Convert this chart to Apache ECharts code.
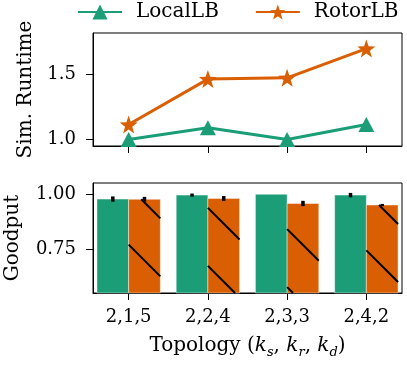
<!DOCTYPE html>
<html>
<head>
<meta charset="utf-8">
<script src="https://cdn.jsdelivr.net/npm/echarts@6/dist/echarts.min.js"></script>
<style>
html, body { margin: 0; padding: 0; background: #fff; }
#main { width: 407px; height: 366px; }
</style>
</head>
<body>
<div id="main"></div>
<script>
// data
var topologies = ['2,1,5', '2,2,4', '2,3,3', '2,4,2'];
var localRuntime = [1.0, 1.09, 1.0, 1.115];
var rotorRuntime = [1.115, 1.465, 1.475, 1.70];
var localGoodput = [0.977, 0.995, 0.999, 0.995];
var localErr = [0.012, 0.007, 0, 0.010];
var rotorGoodput = [0.976, 0.980, 0.957, 0.950];
var rotorErr = [0.011, 0.011, 0.012, 0.005];

var green = '#1b9e77';
var orange = '#d95f02';
var font = 'DejaVu Serif';
var starPath = 'path://M0,-10L2.35,-3.24L9.51,-3.09L3.8,1.24L5.88,8.09L0,4L-5.88,8.09L-3.8,1.24L-9.51,-3.09L-2.35,-3.24Z';

function pairs(vals, extra) {
    return vals.map(function (v, i) {
        return extra ? [i, v, extra[i]] : [i, v];
    });
}

// bar + error bar (+ hatch) for the goodput panel
function barRenderer(offset, hatch) {
    return function (params, api) {
        var x = api.value(0), v = api.value(1), e = api.value(2);
        var cs = params.coordSys;
        var p0 = api.coord([x + offset, v]);
        var p1 = api.coord([x + offset + 0.4, v]);
        var rect = echarts.graphic.clipRectByRect({
            x: p0[0], y: p0[1],
            width: p1[0] - p0[0],
            height: cs.y + cs.height - p0[1]
        }, {x: cs.x, y: cs.y, width: cs.width, height: cs.height});
        if (!rect) return;
        var kids = [{
            type: 'rect',
            shape: rect,
            style: {fill: api.visual('color'), stroke: 'rgba(255,255,255,0.45)', lineWidth: 1}
        }];
        if (hatch) {
            var x0 = rect.x, x1 = rect.x + rect.width, y0 = rect.y, y1 = rect.y + rect.height;
            var step = 58;
            for (var k = Math.ceil((y0 - x1) / step); k <= Math.floor((y1 - x0) / step); k++) {
                var c = k * step;
                var sx = Math.max(x0, y0 - c), ex = Math.min(x1, y1 - c);
                if (ex - sx < 0.5) continue;
                kids.push({
                    type: 'line',
                    shape: {x1: sx, y1: sx + c, x2: ex, y2: ex + c},
                    style: {stroke: '#000', lineWidth: 2}
                });
            }
        }
        if (e > 0) {
            var cx = (p0[0] + p1[0]) / 2;
            var hi = api.coord([x, v + e])[1], lo = api.coord([x, v - e])[1];
            kids.push({
                type: 'rect',
                shape: {x: cx - 1.75, y: hi, width: 3.5, height: lo - hi},
                style: {fill: '#000'}
            });
        }
        return {type: 'group', children: kids};
    };
}

var tickX = [0, 1, 2, 3];
var spine = {show: true, onZero: false, lineStyle: {color: '#000', width: 1}};
var nameStyle = {fontFamily: font, fontSize: 20, color: '#000'};

function xAxisOf(grid, labels) {
    return {
        type: 'value', gridIndex: grid, min: -0.45, max: 3.45,
        axisLine: spine, splitLine: {show: false},
        axisTick: {show: true, length: 7, lineStyle: {color: '#000'}, customValues: tickX},
        axisLabel: {
            show: labels, customValues: tickX, color: '#000', fontFamily: font, fontSize: 18, margin: 15,
            formatter: function (v) { return topologies[Math.round(v)]; }
        }
    };
}

var option = {
    animation: false,
    backgroundColor: '#fff',
    legend: {
        data: ['LocalLB', 'RotorLB'],
        orient: 'horizontal',
        left: 77, top: 2, padding: 0, width: 330,
        itemWidth: 44, itemHeight: 19, itemGap: 36,
        textStyle: {fontFamily: font, fontSize: 20, color: '#000', padding: [0, 0, 0, 9]}
    },
    grid: [
        {left: 93, right: 5, top: 33, height: 113, show: true, borderColor: '#000', borderWidth: 1, outerBoundsMode: 'none'},
        {left: 93, right: 5, top: 183, height: 110, show: true, borderColor: '#000', borderWidth: 1, outerBoundsMode: 'none'}
    ],
    xAxis: [xAxisOf(0, false), xAxisOf(1, true)],
    yAxis: [{
        type: 'value', gridIndex: 0, min: 0.95, max: 1.82,
        name: 'Sim. Runtime', nameLocation: 'middle', nameGap: 57,
        nameTextStyle: nameStyle,
        axisLine: spine, splitLine: {show: false},
        axisTick: {show: true, length: 7, lineStyle: {color: '#000'}, customValues: [1.0, 1.5]},
        axisLabel: {customValues: [1.0, 1.5], color: '#000', fontFamily: font, fontSize: 18, margin: 17,
            formatter: function (v) { return v.toFixed(1); }}
    }, {
        type: 'value', gridIndex: 1, min: 0.55, max: 1.05,
        name: 'Goodput', nameLocation: 'middle', nameGap: 70,
        nameTextStyle: nameStyle,
        axisLine: spine, splitLine: {show: false},
        axisTick: {show: true, length: 7, lineStyle: {color: '#000'}, customValues: [0.75, 1.0]},
        axisLabel: {customValues: [0.75, 1.0], color: '#000', fontFamily: font, fontSize: 18, margin: 17,
            formatter: function (v) { return v.toFixed(2); }}
    }],
    series: [{
        name: 'LocalLB', type: 'line', xAxisIndex: 0, yAxisIndex: 0,
        data: pairs(localRuntime),
        color: green, lineStyle: {width: 3, color: green},
        symbol: 'triangle', symbolSize: [16, 15], itemStyle: {color: green}
    }, {
        name: 'RotorLB', type: 'line', xAxisIndex: 0, yAxisIndex: 0,
        data: pairs(rotorRuntime),
        color: orange, lineStyle: {width: 3, color: orange},
        symbol: starPath, symbolSize: 18, itemStyle: {color: orange}
    }, {
        name: 'LocalLB goodput', type: 'custom', xAxisIndex: 1, yAxisIndex: 1,
        renderItem: barRenderer(-0.4, false), color: green,
        encode: {x: 0, y: 1},
        data: pairs(localGoodput, localErr)
    }, {
        name: 'RotorLB goodput', type: 'custom', xAxisIndex: 1, yAxisIndex: 1,
        renderItem: barRenderer(0, true), color: orange,
        encode: {x: 0, y: 1},
        data: pairs(rotorGoodput, rotorErr)
    }]
};

// x-axis name with italic k and subscripts
option.xAxis[1].name = '{n|Topology (}{k|k}{s|s}{n|, }{k|k}{s|r}{n|, }{k|k}{s|d}{n|)}';
option.xAxis[1].nameLocation = 'middle';
option.xAxis[1].nameGap = 40;
option.xAxis[1].nameTextStyle = {
    rich: {
        n: {fontFamily: font, fontSize: 20, color: '#000', lineHeight: 26, verticalAlign: 'middle'},
        k: {fontFamily: font, fontSize: 20, fontStyle: 'italic', color: '#000', lineHeight: 26, verticalAlign: 'middle'},
        s: {fontFamily: font, fontSize: 13, fontStyle: 'italic', color: '#000', lineHeight: 26, verticalAlign: 'bottom'}
    }
};

var chart = echarts.init(document.getElementById('main'), null, {renderer: 'canvas'});
chart.setOption(option);
</script>
</body>
</html>
